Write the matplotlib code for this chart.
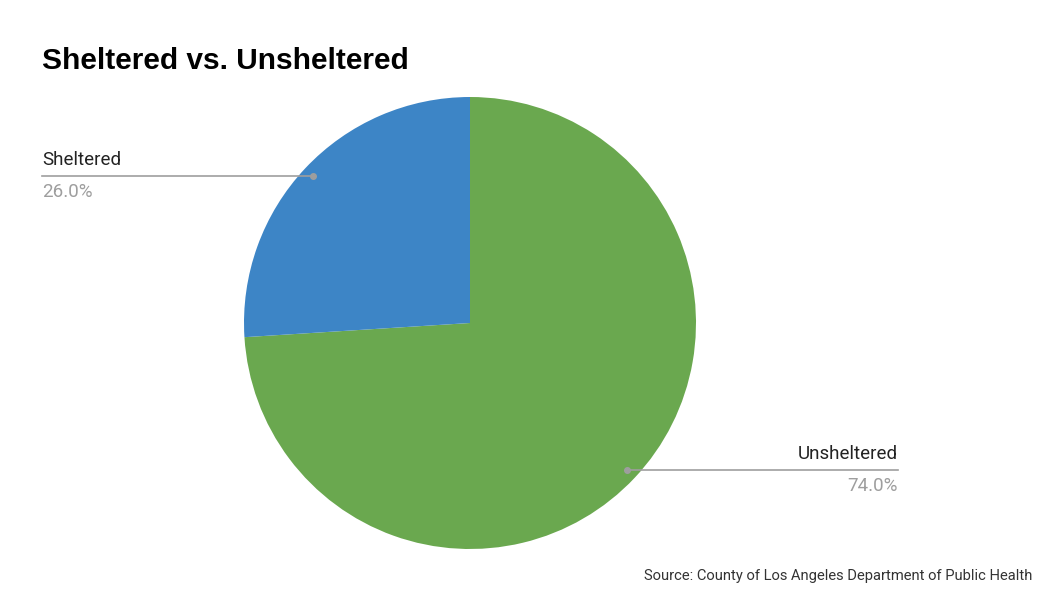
import numpy as np
import matplotlib
matplotlib.use("Agg")
import matplotlib.pyplot as plt

labels = ["Unsheltered", "Sheltered"]
values = [74.0, 26.0]
colors = ["#6aa84f", "#3d85c6"]

fig = plt.figure(figsize=(10.58, 5.91), dpi=100)

# pie axes: center (470, 323) px, radius 226 px
W, H = 1058, 591
cx, cy, r = 470, 323, 226
ax = fig.add_axes([(cx - r) / W, (H - cy - r) / H, 2 * r / W, 2 * r / H])

wedges, _ = ax.pie(values, colors=colors, startangle=90, counterclock=False,
                   radius=1, wedgeprops=dict(linewidth=0))
# pie() resets the limits, so set them afterwards
ax.set_xlim(-1, 1)
ax.set_ylim(-1, 1)
ax.set_aspect("equal")
ax.axis("off")

# leader lines and labels
line_end = {"Unsheltered": (898 - cx) / r, "Sheltered": (42 - cx) / r}
for w, lab, val in zip(wedges, labels, values):
    ang = np.deg2rad((w.theta1 + w.theta2) / 2)
    px, py = 0.95 * np.cos(ang), 0.95 * np.sin(ang)
    xe = line_end[lab]
    ax.plot([px, xe], [py, py], color="#9e9e9e", lw=1.2, clip_on=False)
    ax.plot(px, py, "o", color="#9e9e9e", ms=4, clip_on=False)
    ha = "left" if xe < 0 else "right"
    ax.text(xe, py + 0.03, lab, ha=ha, va="bottom", fontsize=13.5,
            family="Roboto", color="#222222")
    ax.text(xe, py - 0.03, f"{val:.1f}%", ha=ha, va="top", fontsize=13.5,
            family="Roboto", color="#9e9e9e")

fig.text(42 / W, 1 - 61 / H, "Sheltered vs. Unsheltered", ha="left", va="center",
         fontsize=21.5, fontweight="bold", family="Liberation Sans", color="#000000")
fig.text(1032 / W, 1 - 576 / H, "Source: County of Los Angeles Department of Public Health",
         ha="right", va="center", fontsize=10.6, family="Roboto", color="#333333")

fig.savefig("out.png", dpi=100)
